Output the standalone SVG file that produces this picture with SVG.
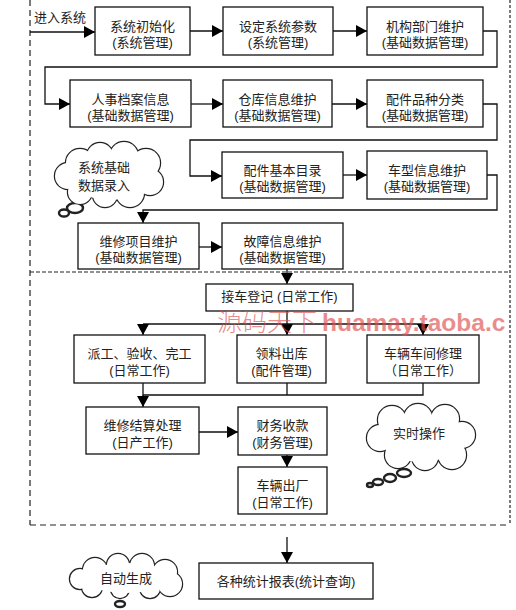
<svg xmlns="http://www.w3.org/2000/svg" width="516" height="610" viewBox="0 0 516 610">
<defs>
<style>
.box{fill:#fff;stroke:#111;stroke-width:1.3}
.t{font-family:"Liberation Sans","Noto Sans CJK SC",sans-serif;font-size:13px;fill:#222;text-anchor:middle}
.tl{font-family:"Liberation Sans","Noto Sans CJK SC",sans-serif;font-size:13px;fill:#222}
.c{fill:none;stroke:#111;stroke-width:1.3}
.frame{fill:none;stroke:#222;stroke-width:1.2;stroke-dasharray:6 4}
.cs{fill:#fff;stroke:#222;stroke-width:2.4}
.cf{fill:#fff;stroke:none}
.wm{fill:#e05050;opacity:.65}
</style>
<marker id="ah" markerUnits="userSpaceOnUse" markerWidth="12" markerHeight="12" refX="11" refY="6" orient="auto">
<path d="M0,0 L11,6 L0,12 z" fill="#000"/>
</marker>
</defs>
<rect width="516" height="610" fill="#fff"/>

<g id="frame">
<line class="frame" x1="30" y1="0" x2="30" y2="525"/>
<line class="frame" x1="510" y1="0" x2="510" y2="525" style="stroke-dasharray:3 2"/>
<line class="frame" x1="30" y1="272" x2="510" y2="272" style="stroke-dasharray:4 2"/>
<line class="frame" x1="30" y1="525" x2="510" y2="525"/>
</g>

<g id="connectors">
<path class="c" d="M30,32 H95" marker-end="url(#ah)"/>
<path class="c" d="M190,31 H223" marker-end="url(#ah)"/>
<path class="c" d="M333,31 H367" marker-end="url(#ah)"/>
<path class="c" d="M483,31 H497 V67 H45 V104 H70" marker-end="url(#ah)"/>
<path class="c" d="M191,104 H223" marker-end="url(#ah)"/>
<path class="c" d="M332,104 H367" marker-end="url(#ah)"/>
<path class="c" d="M483,104 H497 V140 H190 V176 H222" marker-end="url(#ah)"/>
<path class="c" d="M343,175 H367" marker-end="url(#ah)"/>
<path class="c" d="M487,175 H497 V210 H143 V223" marker-end="url(#ah)"/>
<path class="c" d="M199,247 H222" marker-end="url(#ah)"/>
<path class="c" d="M287,269 V284" marker-end="url(#ah)"/>
<path class="c" d="M287,311 V335" marker-end="url(#ah)"/>
<path class="c" d="M143,324 H423"/>
<path class="c" d="M143,324 V335" marker-end="url(#ah)"/>
<path class="c" d="M423,324 V335" marker-end="url(#ah)"/>
<path class="c" d="M143,383 V395 H423 V383"/>
<path class="c" d="M287,383 V395"/>
<path class="c" d="M143,395 V407" marker-end="url(#ah)"/>
<path class="c" d="M199,432 H238" marker-end="url(#ah)"/>
<path class="c" d="M287,455 V467" marker-end="url(#ah)"/>
<path class="c" d="M287,537 V563" marker-end="url(#ah)"/>
</g>

<g id="label-entry"><text class="tl" x="34" y="22">进入系统</text></g>

<g id="n1"><rect class="box" x="95" y="7" width="95" height="48"/><text class="t" x="142.5" y="31">系统初始化</text><text class="t" x="142.5" y="47">(系统管理)</text></g>
<g id="n2"><rect class="box" x="223" y="7" width="110" height="48"/><text class="t" x="278" y="31">设定系统参数</text><text class="t" x="278" y="47">(系统管理)</text></g>
<g id="n3"><rect class="box" x="367" y="7" width="116" height="48"/><text class="t" x="425" y="31">机构部门维护</text><text class="t" x="425" y="47">(基础数据管理)</text></g>

<g id="n4"><rect class="box" x="70" y="80" width="121" height="47"/><text class="t" x="130.5" y="104">人事档案信息</text><text class="t" x="130.5" y="120">(基础数据管理)</text></g>
<g id="n5"><rect class="box" x="223" y="80" width="109" height="47"/><text class="t" x="277.5" y="104">仓库信息维护</text><text class="t" x="277.5" y="120">(基础数据管理)</text></g>
<g id="n6"><rect class="box" x="367" y="80" width="116" height="47"/><text class="t" x="425" y="104">配件品种分类</text><text class="t" x="425" y="120">(基础数据管理)</text></g>

<g id="n7"><rect class="box" x="222" y="152" width="121" height="46"/><text class="t" x="282.5" y="175">配件基本目录</text><text class="t" x="282.5" y="191">(基础数据管理)</text></g>
<g id="n8"><rect class="box" x="367" y="151" width="120" height="48"/><text class="t" x="427" y="175">车型信息维护</text><text class="t" x="427" y="191">(基础数据管理)</text></g>

<g id="n9"><rect class="box" x="78" y="223" width="121" height="46"/><text class="t" x="138.5" y="246">维修项目维护</text><text class="t" x="138.5" y="262">(基础数据管理)</text></g>
<g id="n10"><rect class="box" x="222" y="223" width="121" height="46"/><text class="t" x="282.5" y="246">故障信息维护</text><text class="t" x="282.5" y="262">(基础数据管理)</text></g>

<g id="n11"><rect class="box" x="206" y="284" width="147" height="27"/><text class="t" x="279.5" y="301">接车登记 (日常工作)</text></g>
<g id="n12"><rect class="box" x="74" y="335" width="131" height="48"/><text class="t" x="139.5" y="358">派工、验收、完工</text><text class="t" x="139.5" y="375">(日常工作)</text></g>
<g id="n13"><rect class="box" x="237" y="335" width="89" height="48"/><text class="t" x="281.5" y="358">领料出库</text><text class="t" x="281.5" y="375">(配件管理)</text></g>
<g id="n14"><rect class="box" x="367" y="335" width="112" height="48"/><text class="t" x="423" y="358">车辆车间修理</text><text class="t" x="423" y="375">（日常工作）</text></g>
<g id="n15"><rect class="box" x="86" y="407" width="113" height="47"/><text class="t" x="142.5" y="430">维修结算处理</text><text class="t" x="142.5" y="447">(日产工作)</text></g>
<g id="n16"><rect class="box" x="238" y="407" width="89" height="48"/><text class="t" x="282.5" y="430">财务收款</text><text class="t" x="282.5" y="447">(财务管理)</text></g>
<g id="n17"><rect class="box" x="238" y="467" width="89" height="47"/><text class="t" x="282.5" y="490">车辆出厂</text><text class="t" x="282.5" y="507">(日常工作)</text></g>
<g id="n18"><rect class="box" x="199" y="563" width="174" height="36"/><text class="t" x="286" y="586">各种统计报表(统计查询)</text></g>

<g id="cloud1">
<g class="cs"><circle cx="80" cy="163" r="14"/><circle cx="100" cy="156" r="13"/><circle cx="124" cy="156" r="14"/><circle cx="146" cy="163" r="14"/><circle cx="150" cy="182" r="13"/><circle cx="130" cy="193" r="14"/><circle cx="105" cy="195" r="12"/><circle cx="80" cy="192" r="12"/><circle cx="68" cy="176" r="13"/>
<ellipse cx="75" cy="208" rx="8" ry="5"/><ellipse cx="64" cy="213" rx="5" ry="3.5"/></g>
<g class="cf"><circle cx="80" cy="163" r="14"/><circle cx="100" cy="156" r="13"/><circle cx="124" cy="156" r="14"/><circle cx="146" cy="163" r="14"/><circle cx="150" cy="182" r="13"/><circle cx="130" cy="193" r="14"/><circle cx="105" cy="195" r="12"/><circle cx="80" cy="192" r="12"/><circle cx="68" cy="176" r="13"/><ellipse cx="109" cy="175" rx="40" ry="25"/></g>
<text class="tl" x="78" y="172">系统基础</text><text class="tl" x="78" y="190">数据录入</text>
</g>

<g id="cloud2">
<g class="cs"><circle cx="392" cy="420" r="14"/><circle cx="418" cy="418" r="14"/><circle cx="445" cy="419" r="14"/><circle cx="462" cy="435" r="13"/><circle cx="452" cy="455" r="14"/><circle cx="425" cy="457" r="13"/><circle cx="398" cy="455" r="13"/><circle cx="380" cy="438" r="13"/>
<ellipse cx="404" cy="473" rx="7" ry="4"/><ellipse cx="390" cy="478" rx="6" ry="4"/><ellipse cx="378" cy="482" rx="5" ry="3"/><ellipse cx="370" cy="485" rx="3" ry="2"/></g>
<g class="cf"><circle cx="392" cy="420" r="14"/><circle cx="418" cy="418" r="14"/><circle cx="445" cy="419" r="14"/><circle cx="462" cy="435" r="13"/><circle cx="452" cy="455" r="14"/><circle cx="425" cy="457" r="13"/><circle cx="398" cy="455" r="13"/><circle cx="380" cy="438" r="13"/><ellipse cx="421" cy="438" rx="40" ry="24"/></g>
<text class="t" x="419" y="438">实时操作</text>
</g>

<g id="cloud3">
<g class="cs"><circle cx="95" cy="570" r="12"/><circle cx="118" cy="565" r="11"/><circle cx="142" cy="566" r="12"/><circle cx="165" cy="572" r="12"/><circle cx="170" cy="584" r="12"/><circle cx="150" cy="588" r="10"/><circle cx="120" cy="589" r="9"/><circle cx="92" cy="587" r="10"/><circle cx="80" cy="579" r="10"/>
<ellipse cx="120" cy="604" rx="5" ry="3"/></g>
<g class="cf"><circle cx="95" cy="570" r="12"/><circle cx="118" cy="565" r="11"/><circle cx="142" cy="566" r="12"/><circle cx="165" cy="572" r="12"/><circle cx="170" cy="584" r="12"/><circle cx="150" cy="588" r="10"/><circle cx="120" cy="589" r="9"/><circle cx="92" cy="587" r="10"/><circle cx="80" cy="579" r="10"/><ellipse cx="127" cy="578" rx="45" ry="15"/></g>
<text class="t" x="126" y="583">自动生成</text>
</g>

<g id="watermark"><text class="wm" x="217" y="331" font-family="Liberation Sans,Noto Sans CJK SC,sans-serif" font-size="25"><tspan font-weight="300">源码天下</tspan><tspan x="322" font-weight="bold" font-size="24.5">huamay.taoba.c</tspan></text></g>
</svg>
